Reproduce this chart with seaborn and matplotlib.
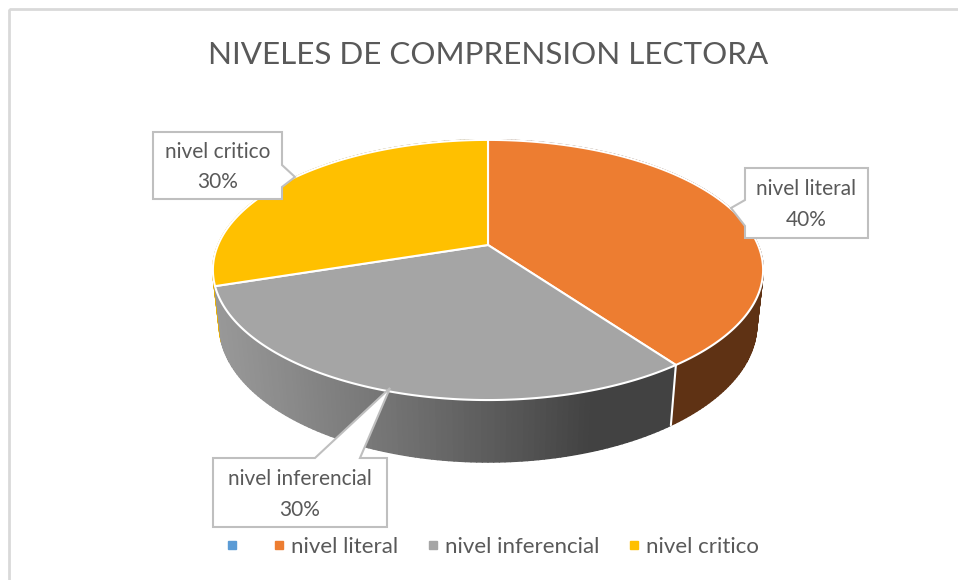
import numpy as np
import matplotlib
matplotlib.use("Agg")
import matplotlib.pyplot as plt
import seaborn as sns
from matplotlib.patches import Polygon, Rectangle
from matplotlib.collections import PolyCollection
from matplotlib.lines import Line2D

# data
categories = ["", "nivel literal", "nivel inferencial", "nivel critico"]
values = [0, 40, 30, 30]
colors = ["#5B9BD5", "#ED7D31", "#A5A5A5", "#FFC000"]
title = "NIVELES DE COMPRENSION LECTORA"

sns.set_theme(style="white")
plt.rcParams["font.family"] = ["Lato", "DejaVu Sans"]
TXT = "#595959"

W, H = 958, 580
fig = plt.figure(figsize=(W / 100, H / 100), dpi=100)
ax = fig.add_axes([0, 0, 1, 1])
ax.set_xlim(0, W)
ax.set_ylim(H, 0)
ax.axis("off")

# perspective projection of a tilted disc (pixel units)
CX, CY = 488, 245
S, C = 0.464, 0.886
D, F = 4.615, 1246
THICK = 0.23


def proj(theta, y3):
    x = np.sin(theta)
    z = np.cos(theta)
    yp = y3 * C + z * S
    zp = z * C - y3 * S
    return CX + F * x / (D + zp), CY - F * yp / (D + zp)


def shade(theta):
    # light from the left-front
    n = np.array([np.sin(theta), np.cos(theta)])
    L = np.array([np.sin(np.radians(252)), np.cos(np.radians(252))])
    return 0.4 + 0.52 * max(0.0, float(n @ L))


fracs = np.array(values, dtype=float) / sum(values)
bounds = np.concatenate([[0], np.cumsum(fracs)]) * 2 * np.pi

# side walls (painter's order)
strips, strip_cols, depth = [], [], []
for i, col in enumerate(colors):
    a0, a1 = bounds[i], bounds[i + 1]
    if a1 - a0 <= 0:
        continue
    n = max(int((a1 - a0) / np.radians(1.0)), 2)
    ts = np.linspace(a0, a1, n + 1)
    rgb = np.array(matplotlib.colors.to_rgb(col))
    for t0, t1 in zip(ts[:-1], ts[1:]):
        p = [proj(t0, 0), proj(t1, 0), proj(t1, -THICK), proj(t0, -THICK)]
        strips.append(p)
        tm = 0.5 * (t0 + t1)
        strip_cols.append(np.clip(rgb * shade(tm), 0, 1))
        depth.append(np.cos(tm))
order = np.argsort(depth)[::-1]
ax.add_collection(PolyCollection([strips[k] for k in order],
                                 facecolors=[strip_cols[k] for k in order],
                                 edgecolors=[strip_cols[k] for k in order],
                                 linewidths=1.2, zorder=2))

# white seam on the visible wall boundaries
for b in bounds[1:-1]:
    if np.cos(b) < -0.5:
        xs, ys = zip(proj(b, 0), proj(b, -THICK))
        ax.plot(xs, ys, color="white", lw=1.5, zorder=3)

# tops
for i, col in enumerate(colors):
    a0, a1 = bounds[i], bounds[i + 1]
    if a1 - a0 <= 0:
        continue
    ts = np.linspace(a0, a1, 200)
    pts = [(CX, CY)] + [proj(t, 0) for t in ts]
    ax.add_patch(Polygon(pts, closed=True, facecolor=col, edgecolor="white",
                         lw=1.5, joinstyle="round", zorder=4))

# frame
ax.add_patch(Rectangle((9, 9), W + 10, H + 10, fill=False, edgecolor="#D9D9D9",
                       lw=2, zorder=1))

ax.text(CX, 55, title, ha="center", va="center", fontsize=22.6, color=TXT, zorder=6)


def callout(box, side, base, tip, lines):
    x0, y0, x1, y1 = box
    if side == "right":
        pts = [(x0, y0), (x1, y0), (x1, base[0]), tip, (x1, base[1]), (x1, y1), (x0, y1)]
    elif side == "left":
        pts = [(x0, y0), (x1, y0), (x1, y1), (x0, y1), (x0, base[1]), tip, (x0, base[0])]
    else:  # top
        pts = [(x0, y0), (base[0], y0), tip, (base[1], y0), (x1, y0), (x1, y1), (x0, y1)]
    ax.add_patch(Polygon(pts, closed=True, facecolor="white", edgecolor="#BFBFBF",
                         lw=1.5, zorder=7))
    cx = 0.5 * (x0 + x1)
    ax.text(cx, y0 + 0.30 * (y1 - y0), lines[0], ha="center", va="center",
            fontsize=15, color=TXT, zorder=8)
    ax.text(cx, y0 + 0.75 * (y1 - y0), lines[1], ha="center", va="center",
            fontsize=15, color=TXT, zorder=8)


pct = ["%d%%" % v for v in values]
callout((153, 132, 282, 199), "right", (165, 187), (295, 177), [categories[3], pct[3]])
callout((745, 168, 868, 238), "left", (200, 226), (731, 208), [categories[1], pct[1]])
callout((213, 458, 387, 527), "top", (315, 360), (390, 388), [categories[2], pct[2]])

handles = [Line2D([0], [0], marker="s", linestyle="none", markersize=6,
                  markerfacecolor=c, markeredgecolor=c) for c in colors]
ax.legend(handles, categories, loc="center", bbox_to_anchor=(493 / W, 1 - 547 / H),
          ncol=4, frameon=False, fontsize=16, labelcolor=TXT, handlelength=0.5,
          handletextpad=0.3, columnspacing=1.3)

fig.savefig("out.png", dpi=100)
